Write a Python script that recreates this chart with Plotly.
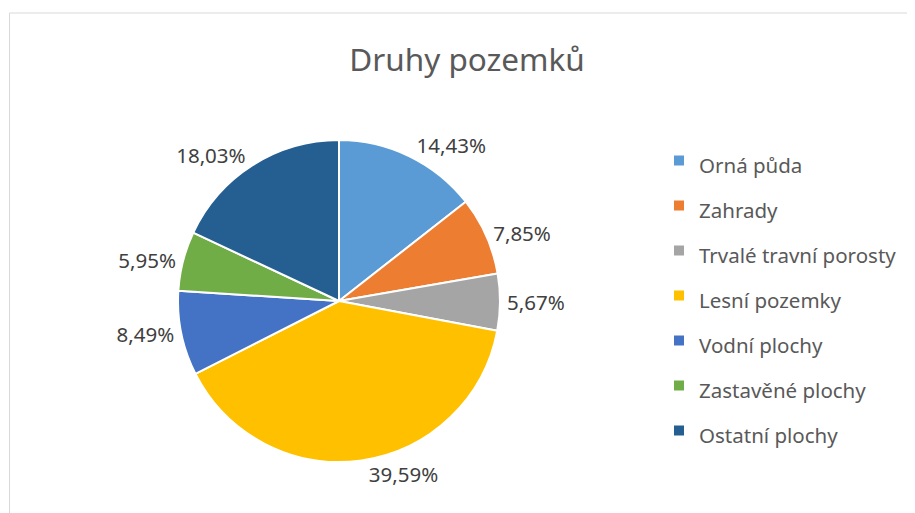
import plotly.graph_objects as go

categories = ["Orná půda", "Zahrady", "Trvalé travní porosty", "Lesní pozemky",
              "Vodní plochy", "Zastavěné plochy", "Ostatní plochy"]
values = [14.43, 7.85, 5.67, 39.59, 8.49, 5.95, 18.03]
colors = ["#5B9BD5", "#ED7D31", "#A5A5A5", "#FFC000", "#4472C4", "#70AD47", "#255E91"]

W, H = 915, 513
OFF = 8  # page body margin
cx, cy, r = 339 - OFF, 301 - OFF, 161

labels_txt = [f"{v:.2f}".replace(".", ",") + "%" for v in values]
legend_names = [f'<span style="font-size:20.5px">{c}</span>' for c in categories]

fig = go.Figure(go.Pie(
    labels=legend_names,
    values=values,
    text=labels_txt,
    textinfo="text",
    textposition="outside",
    outsidetextfont=dict(size=20.5, color="#404040", family="Noto Sans"),
    sort=False,
    direction="clockwise",
    rotation=0,
    marker=dict(colors=colors, line=dict(color="white", width=2)),
    domain=dict(x=[(cx - r) / W, (cx + r) / W], y=[(H - cy - r) / H, (H - cy + r) / H]),
    hoverinfo="skip",
))

fig.update_layout(
    width=W, height=H,
    margin=dict(l=0, r=0, t=0, b=0),
    paper_bgcolor="white",
    title=dict(text="Druhy pozemků", x=(467 - OFF) / W, xanchor="center", y=1 - (60 - OFF) / H,
               yanchor="middle", font=dict(size=31.5, color="#595959", family="Noto Sans")),
    legend=dict(x=(659 - OFF) / W, xanchor="left", y=1 - (133 - OFF) / H, yanchor="top",
                font=dict(size=32.3, color="#595959", family="Noto Sans"),
                bgcolor="rgba(0,0,0,0)"),
    shapes=[dict(type="rect", xref="paper", yref="paper", x0=1.5 / W, x1=1.2,
                 y0=-0.2, y1=1 - (13 - OFF) / H,
                 line=dict(color="#D9D9D9", width=1))],
)

fig.write_html("out.html")
